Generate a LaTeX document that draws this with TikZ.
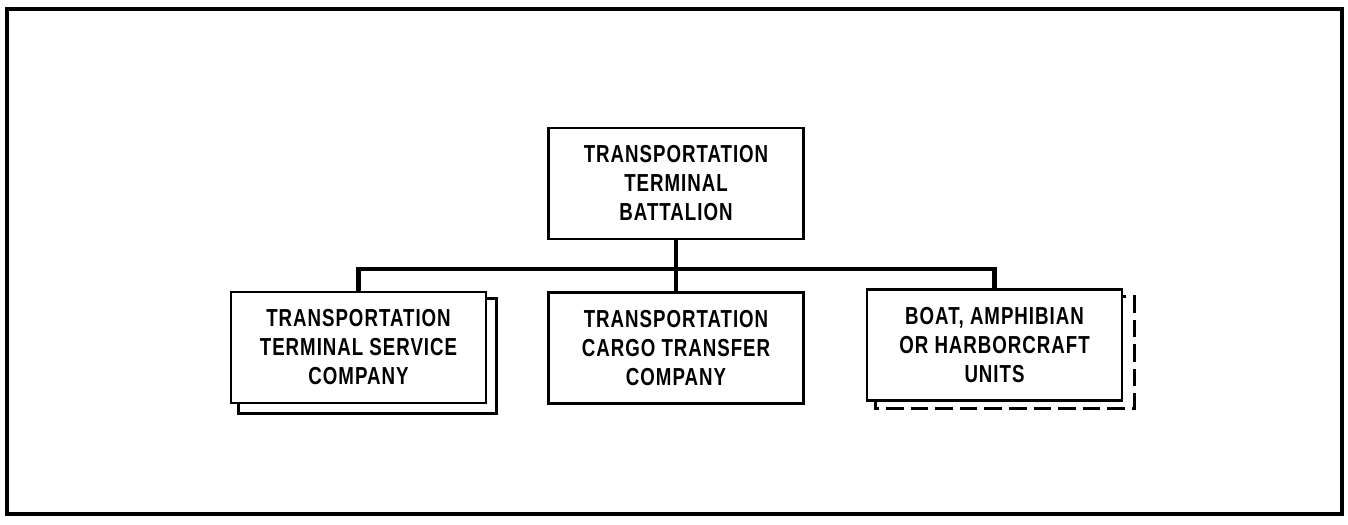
\documentclass[tikz,border=0pt]{standalone}
\usepackage{fontspec}
\newfontfamily\orgfont[FakeStretch=0.76,LetterSpace=4]{Liberation Sans}
\usetikzlibrary{backgrounds}

\begin{document}
\begin{tikzpicture}[x=0.02cm,y=-0.02cm,
    unit/.style={draw,line width=1.5pt,fill=white,inner sep=0pt,
      minimum width=5.1cm,minimum height=2.22cm,align=center,
      font=\orgfont\bfseries\fontsize{14}{16.5}\selectfont},
    link/.style={line width=2.3pt}]
          \useasboundingbox (0,0) rectangle (1348,524);
          \draw [line width=1.8pt] (7,9) rectangle (1342,514);
          \node [unit] (ttb) at (676,183.5) {TRANSPORTATION\\TERMINAL\\BATTALION};
          \node [unit] (tsc) at (358.5,347.5) {TRANSPORTATION\\TERMINAL SERVICE\\COMPANY};
          \node [unit] (ctc) at (676,348) {TRANSPORTATION\\CARGO TRANSFER\\COMPANY};
          \node [unit] (bhu) at (994.5,345) {BOAT, AMPHIBIAN\\OR HARBORCRAFT\\UNITS};
          \begin{scope}[on background layer]
            \draw [line width=1.5pt,fill=white]
              ([shift={(9,8)}]tsc.north west) rectangle ([shift={(9,9)}]tsc.south east);
            \draw [line width=1.5pt,dash pattern=on 10pt off 4pt,fill=white]
              ([shift={(10,8)}]bhu.north west) rectangle ([shift={(11,7)}]bhu.south east);
          \end{scope}
          \coordinate (bar) at (676,269);
          \draw [link] (ttb.south) -- (ctc.north);
          \draw [link] (tsc.north) |- (bar) -| (bhu.north);
        \end{tikzpicture}
\end{document}
